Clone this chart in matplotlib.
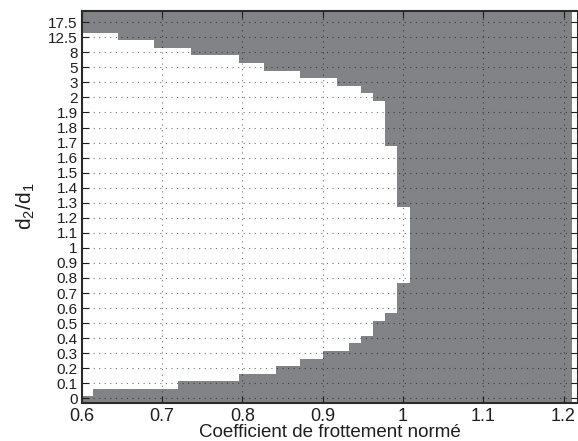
import matplotlib.pyplot as plt

plt.rcParams['font.family'] = ['Liberation Sans', 'DejaVu Sans']
plt.rcParams['mathtext.default'] = 'regular'

# y categories (d2/d1), drawn at equally spaced rows
y_labels = ['0', '0.1', '0.2', '0.3', '0.4', '0.5', '0.6', '0.7', '0.8', '0.9',
            '1', '1.1', '1.2', '1.3', '1.4', '1.5', '1.6', '1.7', '1.8', '1.9',
            '2', '3', '5', '8', '12.5', '17.5']
x_ticks = [0.6, 0.7, 0.8, 0.9, 1.0, 1.1, 1.2]

# staircase edges of the white (feasible) region, in friction coefficient
x_edges = [0.6, 0.6137, 0.6448, 0.690, 0.7196, 0.7361, 0.7959, 0.8270, 0.842,
           0.8719, 0.9001, 0.9179, 0.9325, 0.9478, 0.9628, 0.9777, 0.9926, 1.0088]
# lower / upper limits of the white region for each x step (row units)
lower = [0.15, 0.64, 0.64, 0.64, 1.17, 1.17, 1.62, 1.62, 2.15, 2.61, 3.16,
         3.16, 3.70, 4.14, 5.14, 5.69, 7.69]
upper = [24.29, 24.29, 23.84, 23.31, 23.31, 22.83, 22.27, 21.76, 21.76, 21.28,
         21.28, 20.76, 20.76, 20.28, 19.77, 16.80, 12.74]
x_data_max = 1.2108

gray = '#828387'
txt = '#1e1e1e'

fig = plt.figure(figsize=(5.78, 4.41), dpi=100)
ax = fig.add_axes([81.7 / 578, 38.3 / 441, (577.5 - 81.7) / 578, (402.7 - 10.5) / 441])

ymin, ymax = -0.29, 25.78
ax.fill_between([x_edges[0], x_data_max], ymin, ymax, color=gray, lw=0, zorder=1)
ax.fill_between(x_edges, lower + [lower[-1]], upper + [upper[-1]],
                step='post', color='white', lw=0, zorder=2)

ax.set_xlim(0.6, 0.6 + (577.5 - 81.7) / 803)
ax.set_ylim(ymin, ymax)
ax.set_xticks(x_ticks)
ax.set_xticklabels([f'{v:g}' for v in x_ticks])
ax.set_yticks(range(len(y_labels)))
ax.set_yticklabels(y_labels)

ax.grid(True, linestyle=(0, (1, 4)), color='k', alpha=0.55, lw=0.8, zorder=3)
ax.set_axisbelow(False)

ax.tick_params(direction='in', length=5, width=0.8, top=True, right=True,
               labelsize=13, colors=txt, pad=4)
ax.tick_params(axis='y', labelsize=11, pad=3)
for s in ax.spines.values():
    s.set_linewidth(1.5)
    s.set_color('#2a2a2a')
    s.set_zorder(5)

ax.set_xlabel('Coefficient de frottement normé', fontsize=13.5, color=txt, labelpad=-1)
ax.set_ylabel('d$_2$/d$_1$', fontsize=15, color=txt, labelpad=8)

fig.savefig('out.png', dpi=100)
